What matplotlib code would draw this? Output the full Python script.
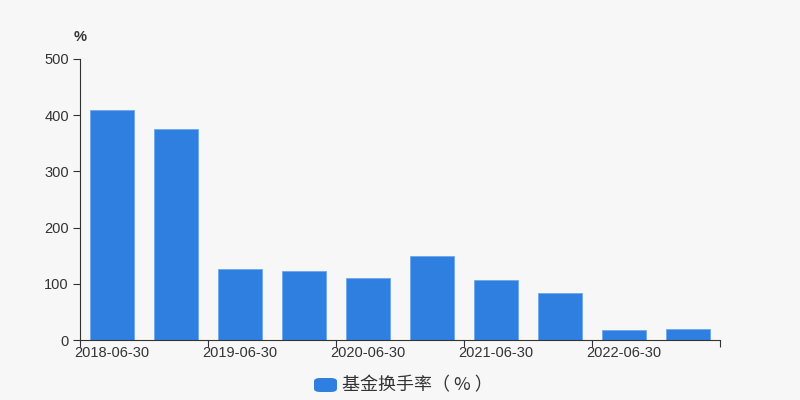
import matplotlib
matplotlib.use("Agg")
import matplotlib.pyplot as plt
from matplotlib.patches import FancyBboxPatch

plt.rcParams['font.family'] = ['Liberation Sans', 'Noto Sans CJK SC', 'DejaVu Sans']

# data
dates = ["2018-06-30", "2018-12-31", "2019-06-30", "2019-12-31", "2020-06-30",
         "2020-12-31", "2021-06-30", "2021-12-31", "2022-06-30", "2022-12-31"]
turnover = [410, 375, 126, 123, 111, 149, 107, 84, 18, 20]
yticks = [0, 100, 200, 300, 400, 500]

bg = "#f7f7f7"
bar_color = "#2e7fe0"
text_color = "#333333"

fig = plt.figure(figsize=(8, 4), dpi=100, facecolor=bg)
ax = fig.add_axes([0.1, 0.15, 0.8, 0.7025])
ax.set_facecolor(bg)

x = list(range(len(dates)))
ax.bar(x, turnover, width=0.7, color=bar_color, edgecolor="#6fa8ee", linewidth=0.6)

ax.set_xlim(-0.5, len(dates) - 0.5)
ax.set_ylim(0, 500)
ax.set_yticks(yticks)
ax.set_yticklabels([str(v) for v in yticks], fontsize=10.5, color=text_color)

# ticks at category boundaries, labels at category centers (every other)
ax.set_xticks([i - 0.5 for i in range(0, len(dates) + 1, 2)])
ax.set_xticklabels([])
ax.tick_params(axis='x', length=5, color=text_color)
ax.tick_params(axis='y', length=5, color=text_color, pad=3)
for i in range(0, len(dates), 2):
    ax.text(i, -10, dates[i], ha='center', va='top', fontsize=10.5, color=text_color)

for s in ["top", "right"]:
    ax.spines[s].set_visible(False)
ax.spines["left"].set_color(text_color)
ax.spines["bottom"].set_color(text_color)

fig.text(0.1, 0.908, "%", ha='center', va='center', fontsize=10.5,
         fontweight='bold', color=text_color)

# legend
fig.patches.append(FancyBboxPatch((314 / 800, 1 - 392 / 400), 23 / 800, 14 / 400,
                                  boxstyle="round,pad=0,rounding_size=0.008",
                                  transform=fig.transFigure, facecolor=bar_color,
                                  edgecolor="none"))
fig.text(342 / 800, 1 - 385 / 400, "基金换手率（ % ）", ha='left', va='center',
         fontsize=13, color=text_color, family=['Noto Sans CJK SC', 'DejaVu Sans'])

fig.savefig("out.png", dpi=100, facecolor=bg)
